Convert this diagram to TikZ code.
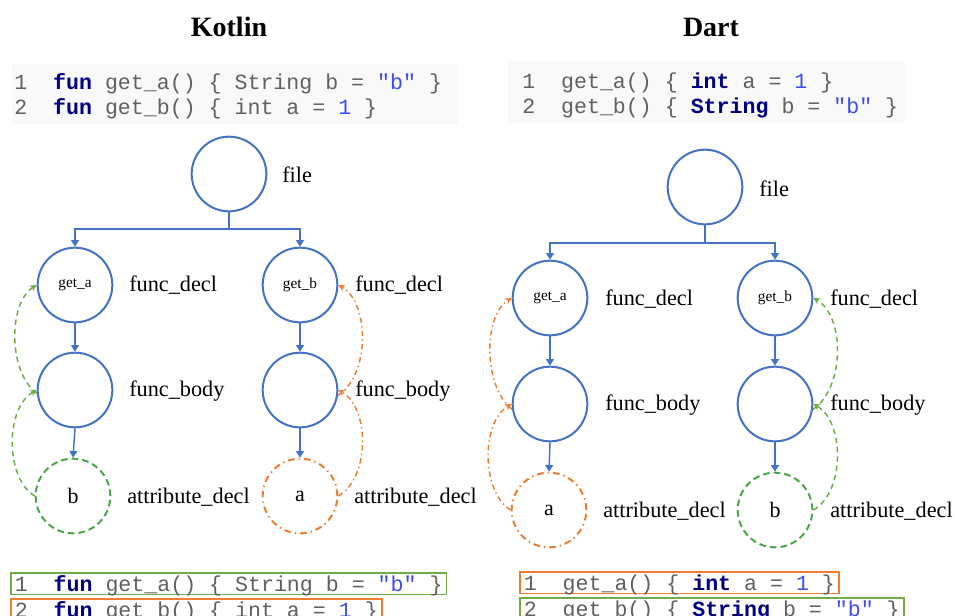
\documentclass[tikz,border=0pt]{standalone}
\usepackage{fontspec}
\setmainfont{Liberation Serif}
\setmonofont{Liberation Mono}
\usetikzlibrary{arrows.meta}
\definecolor{codegray}{HTML}{606060}
\definecolor{kwblue}{HTML}{000080}
\definecolor{litblue}{HTML}{3C4CF0}
\definecolor{treeblue}{HTML}{4472C4}
\definecolor{arrgreen}{HTML}{70AD47}
\definecolor{circgreen}{HTML}{4CA64C}
\definecolor{myorange}{HTML}{ED7D31}
\definecolor{codebg}{HTML}{F9F9F9}
\newcommand\kw[1]{\textbf{\color{kwblue}#1}}
\newcommand\lit[1]{{\color{litblue}#1}}
\tikzset{
  title/.style={font=\fontsize{21}{24}\selectfont\bfseries},
  lbl/.style={anchor=west,font=\fontsize{16.7}{19}\selectfont,inner sep=0pt},
  treenode/.style={circle,draw=treeblue,line width=1.5pt,minimum size=56pt,inner sep=0pt,font=\fontsize{16.5}{19}\selectfont},
  smallname/.style={font=\fontsize{11.5}{13}\selectfont},
  greennode/.style={circle,draw=circgreen,line width=1.5pt,dash pattern=on 5pt off 3pt,minimum size=56pt,inner sep=0pt,font=\fontsize{16.5}{19}\selectfont},
  orangenode/.style={circle,draw=myorange,line width=1.5pt,dash pattern=on 5pt off 3pt on 1pt off 3pt,minimum size=56pt,inner sep=0pt,font=\fontsize{16.5}{19}\selectfont},
  treeedge/.style={draw=treeblue,line width=1.1pt,-{Triangle[width=6pt,length=5pt]}},
  treeline/.style={draw=treeblue,line width=1.1pt},
  greenarr/.style={draw=arrgreen,line width=1.1pt,dash pattern=on 4pt off 3pt,-{Stealth[width=5pt,length=5pt]}},
  orangearr/.style={draw=myorange,line width=1.1pt,dash pattern=on 4pt off 2.5pt on 1pt off 2.5pt,-{Stealth[width=5pt,length=5pt]}},
  codeline/.style={anchor=base west,inner xsep=3pt,inner ysep=0pt,text=codegray,font=\fontsize{16.2}{18}\ttfamily},
  codebox/.style={codeline,line width=1.2pt,text height=13.5pt,text depth=2.5pt}
}
\begin{document}
\begin{tikzpicture}[x=0.75pt,y=-0.75pt]
\path[use as bounding box,clip] (0,0) rectangle (955,615);
\fill[white] (0,0) rectangle (955,615);

% titles
\node[title] (tk) at (229,27) {Kotlin};
\node[title] (td) at (711,27) {Dart};

% code backgrounds
\fill[codebg] (12,64) rectangle (458,124);
\fill[codebg] (508,62) rectangle (906,122);

% top code Kotlin
\node[codeline] (kc1) at (10,89) {1~~\kw{fun} get\_a() \{ String b = \lit{"b"} \}};
\node[codeline] (kc2) at (10,114) {2~~\kw{fun} get\_b() \{ int a = \lit{1} \}};
% top code Dart
\node[codeline] (dc1) at (518,88) {1~~get\_a() \{ \kw{int} a = \lit{1} \}};
\node[codeline] (dc2) at (518,113) {2~~get\_b() \{ \kw{String} b = \lit{"b"} \}};

% ---------- Kotlin tree ----------
\node[treenode] (kf) at (229,174) {};
\node[lbl] (kfl) at (282,175) {file};
\coordinate (kj) at (229,229);
\node[treenode,smallname] (kga) at (75,285) {get\_a};
\node[treenode,smallname] (kgb) at (300,285) {get\_b};
\node[treenode] (kfa) at (75,390) {};
\node[treenode] (kfb) at (300,390) {};
\node[greennode] (kb) at (73,496) {b};
\node[orangenode] (ka) at (300,496) {a};
\node[lbl] (l1) at (129,285) {func\_decl};
\node[lbl] (l2) at (355,285) {func\_decl};
\node[lbl] (l3) at (129,391) {func\_body};
\node[lbl] (l4) at (355,391) {func\_body};
\node[lbl] (l5) at (127,497) {attribute\_decl};
\node[lbl] (l6) at (354,497) {attribute\_decl};

\draw[treeline] (kf.south) -- (kj);
\draw[treeedge] (kj) -| (kga.north);
\draw[treeedge] (kj) -| (kgb.north);
\draw[treeedge] (kga.south) -- (kfa.north);
\draw[treeedge] (kgb.south) -- (kfb.north);
\draw[treeedge] (kfa.south) -- (kb.north);
\draw[treeedge] (kfb.south) -- (ka.north);

\draw[greenarr] (kb.west) .. controls (5,478) and (5,408) .. (kfa.west);
\draw[greenarr] (kfa.185) .. controls (8,372) and (8,303) .. (kga.west);
\draw[orangearr] (ka.east) .. controls (370,478) and (370,408) .. (kfb.east);
\draw[orangearr] (kfb.-8) .. controls (370,375) and (370,303) .. (kgb.east);

% ---------- Dart tree ----------
\node[treenode] (df) at (705,187) {};
\node[lbl] (dfl) at (759,189) {file};
\coordinate (dj) at (705,243);
\node[treenode,smallname] (dga) at (550,298) {get\_a};
\node[treenode,smallname] (dgb) at (775,298) {get\_b};
\node[treenode] (dfa) at (550,404) {};
\node[treenode] (dfb) at (775,404) {};
\node[orangenode] (da) at (549,510) {a};
\node[greennode] (db) at (775,510) {b};
\node[lbl] (m1) at (605,299) {func\_decl};
\node[lbl] (m2) at (830,299) {func\_decl};
\node[lbl] (m3) at (605,405) {func\_body};
\node[lbl] (m4) at (830,405) {func\_body};
\node[lbl] (m5) at (603,511) {attribute\_decl};
\node[lbl] (m6) at (830,511) {attribute\_decl};

\draw[treeline] (df.south) -- (dj);
\draw[treeedge] (dj) -| (dga.north);
\draw[treeedge] (dj) -| (dgb.north);
\draw[treeedge] (dga.south) -- (dfa.north);
\draw[treeedge] (dgb.south) -- (dfb.north);
\draw[treeedge] (dfa.south) -- (da.north);
\draw[treeedge] (dfb.south) -- (db.north);

\draw[orangearr] (da.west) .. controls (481,492) and (481,422) .. (dfa.west);
\draw[orangearr] (dfa.188) .. controls (483,386) and (483,316) .. (dga.west);
\draw[greenarr] (db.east) .. controls (845,492) and (845,422) .. (dfb.east);
\draw[greenarr] (dfb.-8) .. controls (845,388) and (845,316) .. (dgb.east);

% bottom code boxes
\node[codebox,draw=arrgreen] (kb1) at (10,591) {1~~\kw{fun} get\_a() \{ String b = \lit{"b"} \}};
\node[codebox,draw=myorange] (kb2) at (10,617) {2~~\kw{fun} get\_b() \{ int a = \lit{1} \}};
\node[codebox,draw=myorange] (db1) at (519,590) {1~~get\_a() \{ \kw{int} a = \lit{1} \}};
\node[codebox,draw=arrgreen] (db2) at (519,616) {2~~get\_b() \{ \kw{String} b = \lit{"b"} \}};
\end{tikzpicture}
\end{document}
